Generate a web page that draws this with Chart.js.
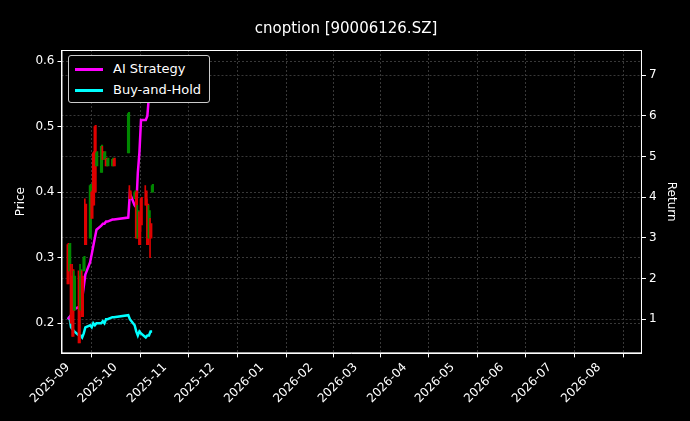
<!DOCTYPE html>
<html><head><meta charset="utf-8">
<script src="https://cdn.jsdelivr.net/npm/chart.js@4"></script>
<style>
body{margin:0;background:#000;}
#wrap{position:relative;width:690px;height:421px;}
#legend{position:absolute;left:68px;top:55px;border:1px solid #ccc;border-radius:3px;background:#000;padding:2px 8px 2px 6px;font:13px "DejaVu Sans";color:#fff;line-height:21px;}
#legend span.sw{display:inline-block;width:28px;height:3px;vertical-align:middle;margin-right:10px;}
</style></head>
<body><div id="wrap"><canvas id="c" width="690" height="421"></canvas>
<div id="legend"><div><span class="sw" style="background:#ff00ff"></span>AI Strategy</div><div><span class="sw" style="background:#00ffff"></span>Buy-and-Hold</div></div></div>
<script>
const dates = ['2025-09-01','2025-09-02','2025-09-03','2025-09-04','2025-09-05','2025-09-08','2025-09-09','2025-09-10','2025-09-11','2025-09-12','2025-09-15','2025-09-16','2025-09-17','2025-09-18','2025-09-19','2025-09-22','2025-09-23','2025-09-24','2025-09-25','2025-09-26','2025-09-29','2025-09-30','2025-10-09','2025-10-10','2025-10-13','2025-10-14','2025-10-15','2025-10-16','2025-10-17','2025-10-20','2025-10-21','2025-10-22','2025-10-23','2025-10-24'];
const openP  = [0.32,0.28,0.27,0.28,0.22,0.27,0.22,0.27,0.28,0.38,0.33,0.40,0.46,0.50,0.44,0.43,0.46,0.45,0.45,0.44,0.44,0.45,0.46,0.40,0.39,0.40,0.33,0.36,0.39,0.40,0.38,0.33,0.35,0.40];
const closeP = [0.26,0.32,0.20,0.18,0.27,0.17,0.28,0.21,0.30,0.32,0.41,0.36,0.38,0.40,0.46,0.47,0.45,0.46,0.44,0.45,0.45,0.44,0.52,0.39,0.40,0.33,0.37,0.32,0.35,0.38,0.32,0.37,0.33,0.41];
const highP  = [0.32,0.32,0.29,0.29,0.28,0.28,0.29,0.28,0.30,0.39,0.41,0.40,0.46,0.50,0.46,0.47,0.47,0.46,0.45,0.45,0.45,0.45,0.52,0.41,0.40,0.40,0.38,0.37,0.39,0.41,0.39,0.38,0.36,0.41];
const lowP   = [0.26,0.28,0.20,0.18,0.22,0.17,0.22,0.21,0.28,0.32,0.33,0.36,0.38,0.40,0.44,0.43,0.45,0.45,0.44,0.44,0.44,0.44,0.46,0.39,0.39,0.33,0.33,0.32,0.34,0.38,0.32,0.33,0.30,0.40];
const aiRet  = [1.0,1.05,1.1,1.2,1.25,1.3,1.4,1.5,1.8,2.1,2.4,2.6,2.8,3.0,3.2,3.3,3.35,3.35,3.4,3.4,3.45,3.45,3.5,4.1,3.8,3.75,4.6,5.1,5.9,5.9,6.0,6.5,6.8,7.3];
const bhRet  = [1.0,1.05,0.8,0.75,0.7,0.6,0.6,0.55,0.65,0.8,0.85,0.8,0.9,0.85,0.9,0.9,0.95,0.9,1.0,1.0,1.05,1.05,1.1,1.0,0.85,0.7,0.6,0.7,0.65,0.55,0.6,0.6,0.7,0.7];
const monthTicks = ['2025-09','2025-10','2025-11','2025-12','2026-01','2026-02','2026-03','2026-04','2026-05','2026-06','2026-07','2026-08'];

const day0 = Date.UTC(2025,8,1);
const toDay = s => { const p = s.split('-').map(Number); return (Date.UTC(p[0],p[1]-1,p[2]||1)-day0)/86400000; };
const xs = dates.map(toDay);
const tickPos = monthTicks.map(toDay);
const col = dates.map((d,i)=>closeP[i]>=openP[i]?'#008800':'#e00000');
const gridC = '#383838';
const font = {family:'DejaVu Sans',size:12};

new Chart(document.getElementById('c'), {
  data: {
    datasets: [
      {type:'bar', data: xs.map((x,i)=>({x, y:[lowP[i],highP[i]]})), backgroundColor: col, barThickness:1, yAxisID:'y'},
      {type:'bar', data: xs.map((x,i)=>({x, y:[Math.min(openP[i],closeP[i]),Math.max(openP[i],closeP[i])+0.002]})), backgroundColor: col, barThickness:1.5, yAxisID:'y'},
      {type:'line', label:'AI Strategy', data: xs.map((x,i)=>({x, y:aiRet[i]})), borderColor:'#ff00ff', borderWidth:2.5, pointRadius:0, yAxisID:'y2'},
      {type:'line', label:'Buy-and-Hold', data: xs.map((x,i)=>({x, y:bhRet[i]})), borderColor:'#00ffff', borderWidth:2.5, pointRadius:0, yAxisID:'y2'}
    ]
  },
  options: {
    responsive:false, animation:false,
    layout:{padding:{left:10,right:8,top:6,bottom:12}},
    plugins:{
      legend:{display:false}, tooltip:{enabled:false},
      title:{display:true, text:'cnoption [90006126.SZ]', color:'#fff', font:{family:'DejaVu Sans',size:15,weight:'normal'}, padding:{top:14,bottom:12}}
    },
    scales:{
      x:{type:'linear', offset:false, min:toDay('2025-08-28'), max:toDay('2026-08-28'),
        afterBuildTicks: a => { a.ticks = tickPos.map(v=>({value:v})); },
        ticks:{color:'#fff', maxRotation:45, minRotation:45, font,
          callback: v => { const i = tickPos.indexOf(v); return i>=0 ? monthTicks[i] : ''; }},
        grid:{color:gridC, tickColor:'#fff', tickLength:4},
        border:{color:'#fff', dash:[2,2]}},
      y:{position:'left', min:0.154, max:0.617,
        afterBuildTicks: a => { a.ticks = [0.2,0.3,0.4,0.5,0.6].map(v=>({value:v})); },
        ticks:{color:'#fff', font, callback:v=>v.toFixed(1)},
        title:{display:true,text:'Price',color:'#fff',font},
        grid:{color:gridC, tickColor:'#fff', tickLength:4}, border:{color:'#fff', dash:[2,2]}},
      y2:{position:'right', min:0.16, max:7.62,
        afterBuildTicks: a => { a.ticks = [1,2,3,4,5,6,7].map(v=>({value:v})); },
        ticks:{color:'#fff', font},
        title:{display:true,text:'Return',color:'#fff',font},
        grid:{color:gridC, tickColor:'#fff', tickLength:4}, border:{color:'#fff', dash:[2,2]}}
    }
  },
  plugins:[{id:'bg', beforeDraw(c){const g=c.ctx; g.save(); g.fillStyle='#000'; g.fillRect(0,0,c.width,c.height); g.restore();}},
    {id:'frame', afterDraw(c){const a=c.chartArea,g=c.ctx; g.save(); g.strokeStyle='#fff'; g.lineWidth=1; g.strokeRect(a.left+0.5,a.top+0.5,a.width-1,a.height-1); g.restore();}}]
});
</script></body></html>
